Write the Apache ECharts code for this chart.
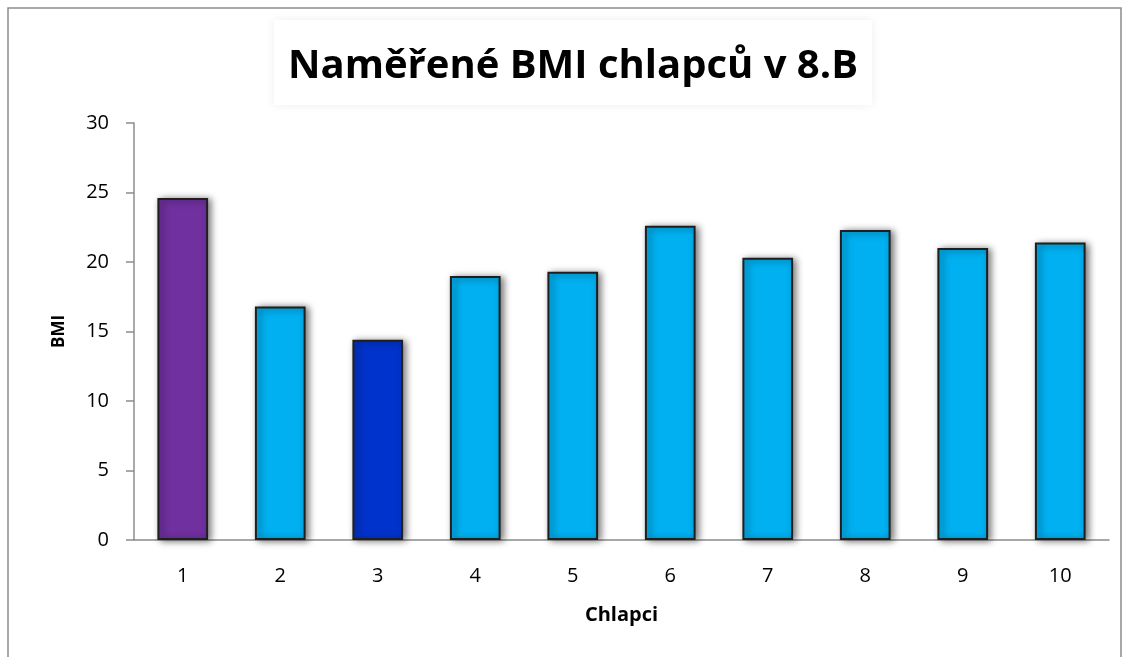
<!DOCTYPE html>
<html>
<head>
<meta charset="utf-8">
<script src="https://cdn.jsdelivr.net/npm/echarts@6/dist/echarts.min.js"></script>
<style>
  html, body { margin: 0; padding: 0; background: #fff; }
  #chart { width: 1127px; height: 657px; }
</style>
</head>
<body>
<div id="chart"></div>
<script>
// Boys in class 8.B and their measured BMI
const boys = ['1', '2', '3', '4', '5', '6', '7', '8', '9', '10'];
const bmi = [24.6, 16.8, 14.4, 19.0, 19.3, 22.6, 20.3, 22.3, 21.0, 21.4];
const yTicks = [0, 5, 10, 15, 20, 25, 30];

// Bar fills: highest value purple, lowest dark blue, the rest light blue
const fillDefault = '#00B0F0';
const fillHigh = '#7030A0';
const fillLow = '#0033CC';

const maxV = Math.max(...bmi);
const minV = Math.min(...bmi);

const FONT = 'Open Sans, Liberation Sans, sans-serif';
const AXIS_GRAY = '#8c8c8c';

const chart = echarts.init(document.getElementById('chart'), null, { renderer: 'canvas' });

chart.setOption({
  animation: false,
  backgroundColor: '#ffffff',
  graphic: [{
    type: 'rect',
    shape: { x: 8, y: 8, width: 1113, height: 660 },
    style: { fill: 'none', stroke: AXIS_GRAY, lineWidth: 1.5 },
    silent: true
  }],
  title: {
    text: 'Naměřené BMI chlapců v 8.B',
    left: 274,
    top: 20,
    padding: [27, 14, 18, 14],
    backgroundColor: '#ffffff',
    shadowBlur: 10,
    shadowColor: 'rgba(0,0,0,0.07)',
    textStyle: {
      fontFamily: FONT,
      fontWeight: 'bold',
      fontSize: 40,
      color: '#000'
    }
  },
  grid: { left: 134, right: 18, top: 123, bottom: 117, containLabel: false },
  xAxis: {
    type: 'category',
    data: boys,
    name: 'Chlapci',
    nameLocation: 'middle',
    nameGap: 65,
    nameTextStyle: { fontFamily: FONT, fontWeight: 'bold', fontSize: 20, color: '#000' },
    axisLine: { lineStyle: { color: AXIS_GRAY, width: 1.5 } },
    axisTick: { show: false },
    axisLabel: { margin: 26, fontFamily: FONT, fontSize: 20, color: '#000' }
  },
  yAxis: {
    type: 'value',
    min: yTicks[0],
    max: yTicks[yTicks.length - 1],
    interval: yTicks[1] - yTicks[0],
    name: 'BMI',
    nameLocation: 'middle',
    nameGap: 66,
    nameRotate: 90,
    nameTextStyle: { fontFamily: FONT, fontWeight: 'bold', fontSize: 17, color: '#000' },
    axisLine: { show: true, lineStyle: { color: AXIS_GRAY, width: 1.5 } },
    axisTick: { show: true, length: 8, lineStyle: { color: AXIS_GRAY, width: 1.5 } },
    splitLine: { show: false },
    axisLabel: { margin: 25, fontFamily: FONT, fontSize: 20, color: '#000' }
  },
  series: [{
    type: 'bar',
    barWidth: '52%',
    data: bmi.map(v => ({
      value: v,
      itemStyle: { color: v === maxV ? fillHigh : (v === minV ? fillLow : fillDefault) }
    })),
    itemStyle: {
      borderColor: '#1f1f1f',
      borderWidth: 2,
      shadowColor: 'rgba(0,0,0,0.55)',
      shadowBlur: 7,
      shadowOffsetX: 3,
      shadowOffsetY: 1
    }
  }]
});
</script>
</body>
</html>
